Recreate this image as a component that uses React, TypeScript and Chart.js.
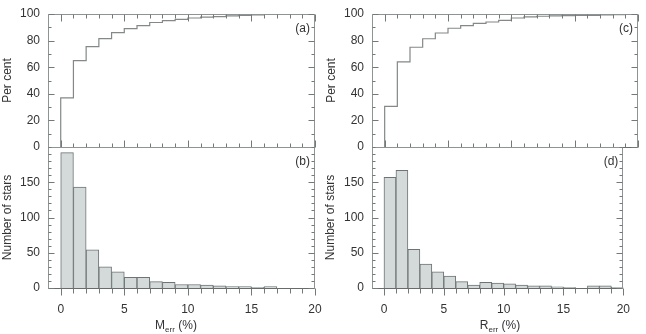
import React, { useEffect, useRef } from "react";
import { Chart, registerables } from "chart.js";

Chart.register(...registerables);

const W = 646;
const H = 334;
const FONT = "'Liberation Sans', Arial, Helvetica, sans-serif";
const Y_AXIS_W = 40;

// ---- data ----
const binEdges = [0, 1, 2, 3, 4, 5, 6, 7, 8, 9, 10, 11, 12, 13, 14, 15, 16, 17, 18, 19, 20];
const massCounts = [192, 143, 54, 30, 23, 15, 15, 9, 8, 5, 5, 4, 3, 2, 2, 1, 2, 0, 0, 0];
const radiusCounts = [157, 167, 55, 34, 23, 17, 9, 4, 8, 7, 6, 4, 3, 3, 1.5, 1, 0, 3, 3, 1];
const massCumulative = [37, 65, 75.5, 81.5, 86, 89, 91.3, 93.6, 95, 96, 97, 97.6, 98.1, 98.6, 99, 99.4];
const radiusCumulative = [30.5, 64, 75, 81.4, 85.7, 89.3, 91.2, 92.9, 94, 95.2, 97, 97.9, 98.3, 98.6, 98.8, 99, 99, 99.3, 99.5, 100];
const xTickValues = [0, 5, 10, 15, 20];
const percentTickValues = [0, 20, 40, 60, 80, 100];
const countTickValues = [0, 50, 100, 150];
const xRange = [-1, 20];
const percentRange = [0, 100];
const countRange = [0, 200];

type Area = { left: number; top: number; right: number; bottom: number };
type Spec = {
  id: string;
  kind: "cum" | "hist";
  area: Area;
  label: string;
  yTitle: string;
  yTitleX: number;
  values: number[];
  xTitleMain?: string;
  xTitleSub?: string;
  xTitleCx?: number;
};

const specs: Spec[] = [
  { id: "a", kind: "cum", area: { left: 48, top: 7, right: 315, bottom: 147 }, label: "(a)", yTitle: "Per cent", yTitleX: 8, values: massCumulative },
  { id: "b", kind: "hist", area: { left: 48, top: 147, right: 315, bottom: 288 }, label: "(b)", yTitle: "Number of stars", yTitleX: 8, values: massCounts, xTitleMain: "M", xTitleSub: "err", xTitleCx: 176 },
  { id: "c", kind: "cum", area: { left: 372, top: 7, right: 638, bottom: 147 }, label: "(c)", yTitle: "Per cent", yTitleX: 332, values: radiusCumulative },
  { id: "d", kind: "hist", area: { left: 372, top: 147, right: 638, bottom: 288 }, label: "(d)", yTitle: "Number of stars", yTitleX: 331, values: radiusCounts, xTitleMain: "R", xTitleSub: "err", xTitleCx: 500 },
];

function decorPlugin(spec: Spec) {
  return {
    id: "decor" + spec.id,
    afterDraw(chart: any) {
      const { ctx, chartArea: a } = chart;
      const xs = chart.scales.x;
      const ys = chart.scales.y;
      const L = Math.round(a.left) + 0.5;
      const R = Math.round(a.right) - 0.5;
      const T = Math.round(a.top) + 0.5;
      const B = Math.round(a.bottom) + 0.5;
      const seg = (x1: number, y1: number, x2: number, y2: number) => {
        ctx.beginPath();
        ctx.moveTo(x1, y1);
        ctx.lineTo(x2, y2);
        ctx.stroke();
      };
      ctx.save();
      ctx.lineWidth = 1;
      // frame
      ctx.strokeStyle = "#8e9494";
      ctx.beginPath();
      ctx.moveTo(L, B);
      ctx.lineTo(L, T);
      ctx.lineTo(R, T);
      ctx.lineTo(R, B);
      ctx.stroke();
      ctx.strokeStyle = "#666c6c";
      seg(L, B, R, B);
      // x ticks
      ctx.strokeStyle = "#737979";
      for (let v = 0; v <= xRange[1]; v++) {
        const major = xTickValues.includes(v);
        const px = Math.round(xs.getPixelForValue(v)) + 0.5;
        if (spec.kind === "cum") {
          const len = major ? 7 : 4;
          seg(px, T, px, T + len);
          seg(px, B, px, B - len);
        } else {
          const len = major ? 7 : 5;
          seg(px, B, px, B + len);
        }
      }
      // y ticks
      const yMin = spec.kind === "cum" ? percentRange[0] : countRange[0];
      const yMax = spec.kind === "cum" ? percentRange[1] : countRange[1];
      const yMajors = spec.kind === "cum" ? percentTickValues : countTickValues;
      for (let v = yMin; v <= yMax; v += 10) {
        const major = yMajors.includes(v);
        const py = Math.round(ys.getPixelForValue(v)) + 0.5;
        const len = major ? 6 : 3;
        seg(L, py, L + len, py);
        seg(R, py, R - len, py);
      }
      // panel label
      ctx.fillStyle = "#333";
      ctx.font = `12px ${FONT}`;
      ctx.textAlign = "right";
      ctx.textBaseline = "middle";
      ctx.fillText(spec.label, a.right - 5, a.top + 15);
      // y title
      ctx.save();
      ctx.translate(spec.yTitleX, (a.top + a.bottom) / 2);
      ctx.rotate(-Math.PI / 2);
      ctx.textAlign = "center";
      ctx.textBaseline = "middle";
      ctx.fillText(spec.yTitle, 0, 0);
      ctx.restore();
      // x title with subscript
      if (spec.xTitleMain) {
        const rest = " (%)";
        ctx.textAlign = "left";
        ctx.textBaseline = "alphabetic";
        ctx.font = `12px ${FONT}`;
        const wMain = ctx.measureText(spec.xTitleMain).width;
        const wRest = ctx.measureText(rest).width;
        ctx.font = `8px ${FONT}`;
        const wSub = ctx.measureText(spec.xTitleSub || "").width;
        const x0 = (spec.xTitleCx || 0) - (wMain + wSub + wRest) / 2;
        const base = 328.5;
        ctx.font = `12px ${FONT}`;
        ctx.fillText(spec.xTitleMain, x0, base);
        ctx.font = `8px ${FONT}`;
        ctx.fillText(spec.xTitleSub || "", x0 + wMain, base + 3);
        ctx.font = `12px ${FONT}`;
        ctx.fillText(rest, x0 + wMain + wSub, base);
      }
      ctx.restore();
    },
  };
}

function buildConfig(spec: Spec): any {
  const isCum = spec.kind === "cum";
  let dataset: any;
  if (isCum) {
    const pts: { x: number; y: number }[] = [{ x: binEdges[0], y: 0 }];
    spec.values.forEach((v, i) => pts.push({ x: binEdges[i], y: v }));
    pts.push({ x: binEdges[spec.values.length], y: spec.values[spec.values.length - 1] });
    dataset = {
      type: "line",
      data: pts,
      stepped: "before",
      borderColor: "#848888",
      borderWidth: 1.2,
      pointRadius: 0,
      fill: false,
      tension: 0,
    };
  } else {
    dataset = {
      type: "bar",
      data: spec.values.map((v, i) => ({ x: (binEdges[i] + binEdges[i + 1]) / 2, y: v })),
      backgroundColor: "#d4dada",
      borderColor: "#6e7474",
      borderWidth: 1,
      barPercentage: 1,
      categoryPercentage: 1,
    };
  }
  const a = spec.area;
  const xAxisH = isCum ? 0 : H - a.bottom;
  return {
    type: isCum ? "line" : "bar",
    data: { datasets: [dataset] },
    options: {
      responsive: false,
      animation: false,
      events: [],
      layout: {
        autoPadding: false,
        padding: { left: a.left - Y_AXIS_W, top: a.top, right: W - a.right, bottom: H - a.bottom - xAxisH },
      },
      plugins: { legend: { display: false }, tooltip: { enabled: false } },
      scales: {
        x: {
          type: "linear",
          min: xRange[0],
          max: xRange[1],
          offset: false,
          grid: { display: false, drawTicks: false },
          border: { display: false },
          ticks: {
            display: !isCum,
            font: { family: FONT, size: 12, lineHeight: 1 },
            color: "#333",
            padding: 16,
            maxRotation: 0,
            autoSkip: false,
          },
          afterBuildTicks: (s: any) => {
            s.ticks = xTickValues.map((v) => ({ value: v }));
          },
          afterFit: (s: any) => {
            s.height = xAxisH;
          },
        },
        y: {
          type: "linear",
          position: "left",
          min: isCum ? percentRange[0] : countRange[0],
          max: isCum ? percentRange[1] : countRange[1],
          grid: { display: false, drawTicks: false },
          border: { display: false },
          ticks: {
            font: { family: FONT, size: 12, lineHeight: 1 },
            color: "#333",
            padding: 8,
          },
          afterBuildTicks: (s: any) => {
            s.ticks = (isCum ? percentTickValues : countTickValues).map((v) => ({ value: v }));
          },
          afterFit: (s: any) => {
            s.width = Y_AXIS_W;
          },
        },
      },
    },
    plugins: [decorPlugin(spec)],
  };
}

function ChartPanel({ spec }: { spec: Spec }) {
  const ref = useRef<HTMLCanvasElement>(null);
  useEffect(() => {
    if (!ref.current) return;
    const chart = new Chart(ref.current, buildConfig(spec));
    return () => chart.destroy();
  }, [spec]);
  return (
    <canvas
      ref={ref}
      width={W}
      height={H}
      style={{ position: "absolute", left: 0, top: 0, width: W, height: H }}
    />
  );
}

export default function App() {
  return (
    <div style={{ position: "fixed", left: 0, top: 0, width: W, height: H, background: "#fff" }}>
      {specs.map((s) => (
        <ChartPanel key={s.id} spec={s} />
      ))}
    </div>
  );
}
